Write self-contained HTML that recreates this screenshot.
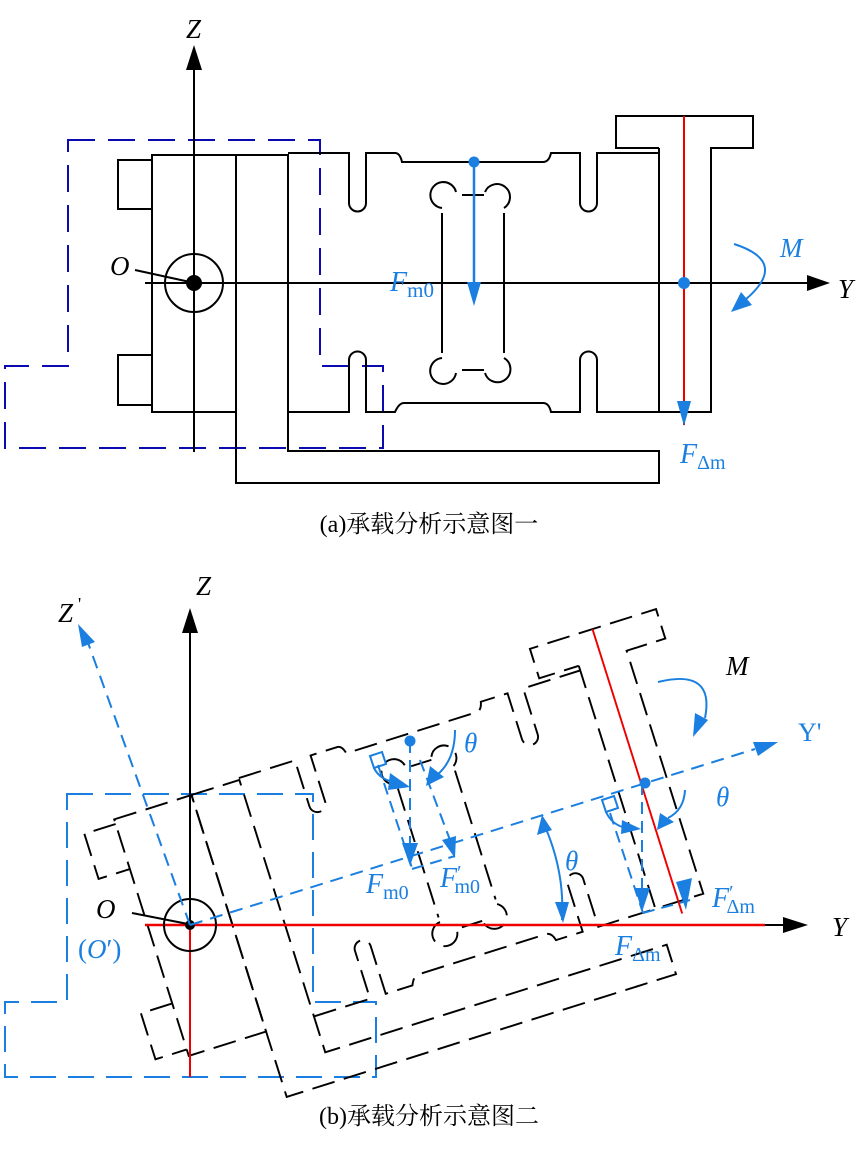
<!DOCTYPE html>
<html><head><meta charset="utf-8"><style>
html,body{margin:0;padding:0;background:#fff;}
svg{display:block;}
text{font-family:"Liberation Serif","Noto Serif CJK SC",serif;}
.it{font-style:italic;}
</style></head><body>
<svg width="859" height="1149" viewBox="0 0 859 1149" xmlns="http://www.w3.org/2000/svg">
<defs>
<g id="part">
 <path d="M152,155 H236 V412 H152 Z"/>
 <path d="M152,160 H118 V209 H152 M152,355 H118 V405 H152"/>
 <path d="M236,155 H288 V451 H659 V483 H236 Z"/>
 <path d="M288,153 H349 V203 A8.5,8.5 0 0 0 366,203 V153 H395 Q400,153 402,162 H543 Q549,162 551,153 H580 V203 A8.5,8.5 0 0 0 597,203 V153 H659"/>
 <path d="M288,412 H349 V360 A8.5,8.5 0 0 1 366,360 V412 H395 Q399,403 404,403 H543 Q549,403 551,412 H580 V360 A8.5,8.5 0 0 1 597,360 V412 H659"/>
 <path d="M659,148 V412 H711 V148 H753 V116 H616 V148 H659"/>
 <path d="M442,208 A13,13 0 1 1 456,192 M462,195 H484 M485,192 A13,13 0 1 1 504,208 M442,213 V353 M504,213 V353 M442,358 A13,13 0 1 0 456,373 M462,370 H484 M485,373 A13,13 0 1 0 504,358"/>
</g>
</defs>

<!-- ===== TOP FIGURE ===== -->
<path d="M68,140 H320 V366 H383 V448 H5 V366 H68 Z" fill="none" stroke="#0a0ab0" stroke-width="2" stroke-dasharray="27 13"/>
<use href="#part" fill="none" stroke="#000" stroke-width="2"/>
<line x1="194" y1="148" x2="194" y2="452" stroke="#e00" stroke-width="2"/>
<line x1="684" y1="116" x2="684" y2="425" stroke="#e00" stroke-width="2"/>
<line x1="145" y1="283" x2="810" y2="283" stroke="#000" stroke-width="2"/>
<path d="M807,275 L830,283 L807,291 Z" fill="#000"/>
<line x1="194" y1="452" x2="194" y2="70" stroke="#000" stroke-width="2"/>
<path d="M186,70 L194,45 L202,70 Z" fill="#000"/>
<text x="186" y="38" class="it" font-size="27">Z</text>
<text x="838" y="298" class="it" font-size="27">Y</text>
<circle cx="194" cy="283" r="29" fill="none" stroke="#000" stroke-width="2"/>
<circle cx="194" cy="283" r="8" fill="#000"/>
<line x1="135" y1="270" x2="190" y2="282" stroke="#000" stroke-width="2"/>
<text x="110" y="275" class="it" font-size="27">O</text>
<line x1="474" y1="162" x2="474" y2="285" stroke="#1a7fe0" stroke-width="2.5"/>
<path d="M467,282 L474,306 L481,282 Z" fill="#1a7fe0"/>
<circle cx="474" cy="162" r="5.5" fill="#1a7fe0"/>
<text x="390" y="291" class="it" font-size="28" fill="#1a7fe0">F<tspan font-style="normal" font-size="21" dy="6">m0</tspan></text>
<circle cx="684" cy="283" r="6" fill="#1a7fe0"/>
<path d="M677,401 L684,426 L691,401 Z" fill="#1a7fe0"/>
<text x="680" y="463" class="it" font-size="28" fill="#1a7fe0">F<tspan font-style="normal" font-size="20" dy="6">Δm</tspan></text>
<path d="M734,244 Q790,262 745,300" fill="none" stroke="#1a7fe0" stroke-width="2"/>
<path d="M731,312 L741,292 L752,305 Z" fill="#1a7fe0"/>
<text x="780" y="257" class="it" font-size="27" fill="#1a7fe0">M</text>
<text x="429" y="532" font-size="24" text-anchor="middle">(a)承载分析示意图一</text>

<!-- ===== BOTTOM FIGURE ===== -->
<path d="M67,794 H313 V1002 H376 V1077 H5 V1002 H67 Z" fill="none" stroke="#1a7fe0" stroke-width="2" stroke-dasharray="26 12"/>
<g transform="translate(190,925) scale(0.965) rotate(-17.5) translate(-194,-283)">
 <use href="#part" fill="none" stroke="#000" stroke-width="2" stroke-dasharray="24 10"/>
 <line x1="684" y1="116" x2="684" y2="425" stroke="#e00" stroke-width="2"/>
</g>
<path d="M676,882 L686,910 L692,878 Z" fill="#1a7fe0"/>
<line x1="190" y1="925" x2="190" y2="1077" stroke="#e00" stroke-width="2"/>
<line x1="190" y1="925" x2="190" y2="632" stroke="#000" stroke-width="2"/>
<path d="M182,633 L190,608 L198,633 Z" fill="#000"/>
<text x="196" y="595" class="it" font-size="27">Z</text>
<line x1="145" y1="925" x2="785" y2="925" stroke="#000" stroke-width="2"/>
<line x1="145" y1="925" x2="765" y2="925" stroke="#e00" stroke-width="2.5"/>
<path d="M783,917 L808,925 L783,933 Z" fill="#000"/>
<text x="832" y="936" class="it" font-size="27">Y</text>
<circle cx="190" cy="925" r="26" fill="none" stroke="#000" stroke-width="2"/>
<circle cx="190" cy="925" r="5" fill="#000"/>
<line x1="132" y1="913" x2="188" y2="924" stroke="#000" stroke-width="2"/>
<text x="96" y="918" class="it" font-size="27">O</text>
<text x="78" y="958" font-size="27" fill="#1a7fe0">(<tspan class="it">O</tspan>′)</text>
<line x1="190" y1="925" x2="87" y2="640" stroke="#1a7fe0" stroke-width="2" stroke-dasharray="13 8"/>
<path d="M78,624 L95,642 L82,647 Z" fill="#1a7fe0"/>
<text x="58" y="622" class="it" font-size="27">Z</text><text x="78" y="610" font-size="18">'</text>
<line x1="190" y1="925" x2="755" y2="749" stroke="#1a7fe0" stroke-width="2" stroke-dasharray="13 8"/>
<path d="M778,742 L753,742 L758,756 Z" fill="#1a7fe0"/>
<text x="798" y="741" font-size="26" fill="#1a7fe0">Y'</text>
<g stroke="#1a7fe0" stroke-width="2" fill="none">
 <line x1="410" y1="741" x2="410" y2="845" stroke-dasharray="12 7"/>
 <line x1="378" y1="765" x2="412" y2="868" stroke-dasharray="12 7"/>
 <line x1="412" y1="869" x2="455" y2="856" stroke-dasharray="12 7"/>
 <line x1="420" y1="760" x2="450" y2="840" stroke-dasharray="12 7"/>
 <path d="M370,756 L382,752 L386,764 L374,768 Z"/>
 <path d="M374,768 Q380,780 395,782"/>
 <path d="M455,730 Q455,760 437,775"/>
</g>
<circle cx="410" cy="741" r="5.5" fill="#1a7fe0"/>
<path d="M402,843 L410,866 L418,843 Z" fill="#1a7fe0"/>
<path d="M442,840 L455,858 L456,836 Z" fill="#1a7fe0"/>
<path d="M390,773 L410,787 L388,790 Z" fill="#1a7fe0"/>
<path d="M430,766 L426,786 L444,777 Z" fill="#1a7fe0"/>
<text x="464" y="752" class="it" font-size="27" fill="#1a7fe0">θ</text>
<text x="366" y="893" class="it" font-size="28" fill="#1a7fe0">F<tspan font-style="normal" font-size="20" dy="6">m0</tspan></text>
<text x="440" y="887" class="it" font-size="28" fill="#1a7fe0">F<tspan font-size="20" dy="-8" font-style="normal">′</tspan><tspan font-style="normal" font-size="20" dx="-7" dy="14">m0</tspan></text>
<path d="M543,822 Q565,870 562,920" fill="none" stroke="#1a7fe0" stroke-width="2"/>
<path d="M537,835 L542,815 L552,830 Z" fill="#1a7fe0"/>
<path d="M555,902 L563,923 L569,902 Z" fill="#1a7fe0"/>
<text x="565" y="870" class="it" font-size="27" fill="#1a7fe0">θ</text>
<g stroke="#1a7fe0" stroke-width="2" fill="none">
 <line x1="642" y1="783" x2="642" y2="890" stroke-dasharray="12 7"/>
 <line x1="610" y1="813" x2="643" y2="913" stroke-dasharray="12 7"/>
 <line x1="643" y1="913" x2="690" y2="900" stroke-dasharray="12 7"/>
 <path d="M602,800 L614,796 L618,808 L606,812 Z"/>
 <path d="M606,812 Q612,825 626,828"/>
 <path d="M685,790 Q684,810 668,818"/>
</g>
<circle cx="645" cy="783" r="5.5" fill="#1a7fe0"/>
<path d="M635,888 L642,912 L650,888 Z" fill="#1a7fe0"/>
<path d="M622,820 L641,829 L621,834 Z" fill="#1a7fe0"/>
<path d="M660,813 L657,830 L674,822 Z" fill="#1a7fe0"/>
<text x="716" y="806" class="it" font-size="27" fill="#1a7fe0">θ</text>
<text x="712" y="907" class="it" font-size="28" fill="#1a7fe0">F<tspan font-size="20" dy="-8" font-style="normal">′</tspan><tspan font-style="normal" font-size="20" dx="-7" dy="14">Δm</tspan></text>
<text x="615" y="955" class="it" font-size="28" fill="#1a7fe0">F<tspan font-style="normal" font-size="20" dy="6">Δm</tspan></text>
<path d="M658,682 Q715,668 705,718" fill="none" stroke="#1a7fe0" stroke-width="2"/>
<path d="M695,713 L693,737 L708,720 Z" fill="#1a7fe0"/>
<text x="726" y="675" class="it" font-size="27">M</text>
<text x="429" y="1124" font-size="24" text-anchor="middle">(b)承载分析示意图二</text>
</svg>
</body></html>
